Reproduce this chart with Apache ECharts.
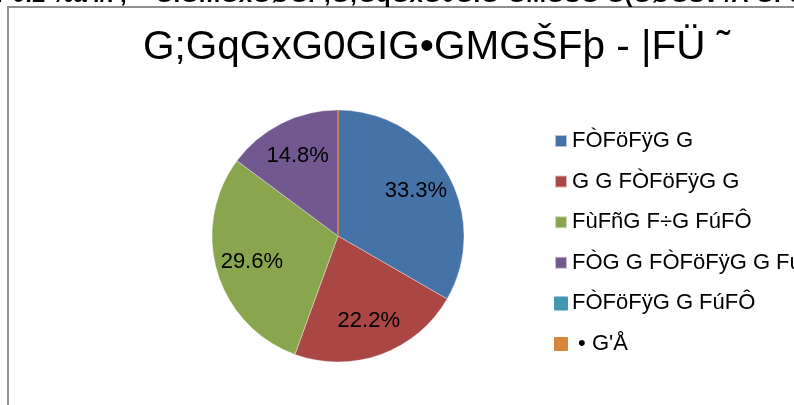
<!DOCTYPE html>
<html>
<head>
<meta charset="utf-8">
<script src="https://cdn.jsdelivr.net/npm/echarts@6/dist/echarts.min.js"></script>
<style>
html,body{margin:0;padding:0;background:#fff;}
#c{width:794px;height:405px;}
</style>
</head>
<body>
<div id="c"></div>
<script>
var titleText = "G;GqGxG0GIG•GMGŠFþ - |FÜ ˜";
var headerText = "Þ0Ì2 %á4/î ,  ˆ GÌGmGxGØGr ,G;GqGxG0GIG•GMGŠG G(GØGŠv /Ä GÌ G";
var categories = ["FÒFöFÿG G", "G G FÒFöFÿG G", "FùFñG F÷G FúFÔ", "FÒG G FÒFöFÿG G FúFÔ", "FÒFöFÿG G FúFÔ", " • G'Å"];
var values = [9, 6, 8, 4, 0, 0];
var colors = ["#4572A7", "#AA4643", "#89A54E", "#71588F", "#4198AF", "#DB843D"];

var FONT = "Liberation Sans, Arial, sans-serif";
var center = [338, 236];
var R = 126;
var total = values.reduce(function (a, b) { return a + b; }, 0);

var pieData = categories.map(function (n, i) {
  return { name: n, value: values[i], itemStyle: { color: colors[i], borderColor: i >= 4 ? colors[i] : "rgba(255,255,255,0.6)", borderWidth: i >= 4 ? 1 : 0.6 } };
});
var labelData = categories.map(function (n, i) {
  return { name: n, value: values[i] };
});

var chart = echarts.init(document.getElementById("c"), null, { renderer: "canvas" });
chart.setOption({
  backgroundColor: "#fff",
  animation: false,
  color: colors,
  title: {
    text: titleText,
    left: 143,
    top: 27,
    padding: 0,
    textStyle: { fontFamily: FONT, fontSize: 40.5, fontWeight: "normal", color: "#000" }
  },
  graphic: [
    { type: "rect", shape: { x: 8, y: 7, width: 900, height: 500 }, style: { fill: "none", stroke: "#8f8f8f", lineWidth: 2 }, z: 0 },
    { type: "text", left: -4, top: -17, style: { text: headerText, font: "bold 24px " + FONT, fill: "#000" }, z: 10 }
  ],
  legend: {
    orient: "vertical",
    left: 554,
    top: 130,
    icon: "rect",
    itemWidth: 12,
    itemHeight: 12,
    itemGap: 18.6,
    selectedMode: false,
    padding: 0,
    data: categories,
    textStyle: { fontFamily: FONT, fontSize: 22, color: "#000", lineHeight: 22, padding: [0, 0, 0, 0] }
  },
  series: [
    {
      type: "pie",
      center: center,
      radius: [0, R],
      startAngle: 90,
      clockwise: true,
      minAngle: 0,
      avoidLabelOverlap: false,
      label: { show: false },
      labelLine: { show: false },
      emphasis: { disabled: true },
      data: pieData,
      z: 2
    },
    {
      type: "pie",
      center: center,
      radius: [R * 0.38, R],
      startAngle: 90,
      clockwise: true,
      avoidLabelOverlap: false,
      silent: true,
      itemStyle: { color: "rgba(0,0,0,0)", borderWidth: 0 },
      label: {
        show: true,
        position: "inside",
        fontFamily: FONT,
        fontSize: 22,
        color: "#000",
        padding: [7, 0, 0, 0],
        formatter: function (p) { return p.value > 0 ? (p.value / total * 100).toFixed(1) + "%" : ""; }
      },
      labelLine: { show: false },
      emphasis: { disabled: true },
      data: labelData,
      z: 3
    }
  ]
});
</script>
</body>
</html>
